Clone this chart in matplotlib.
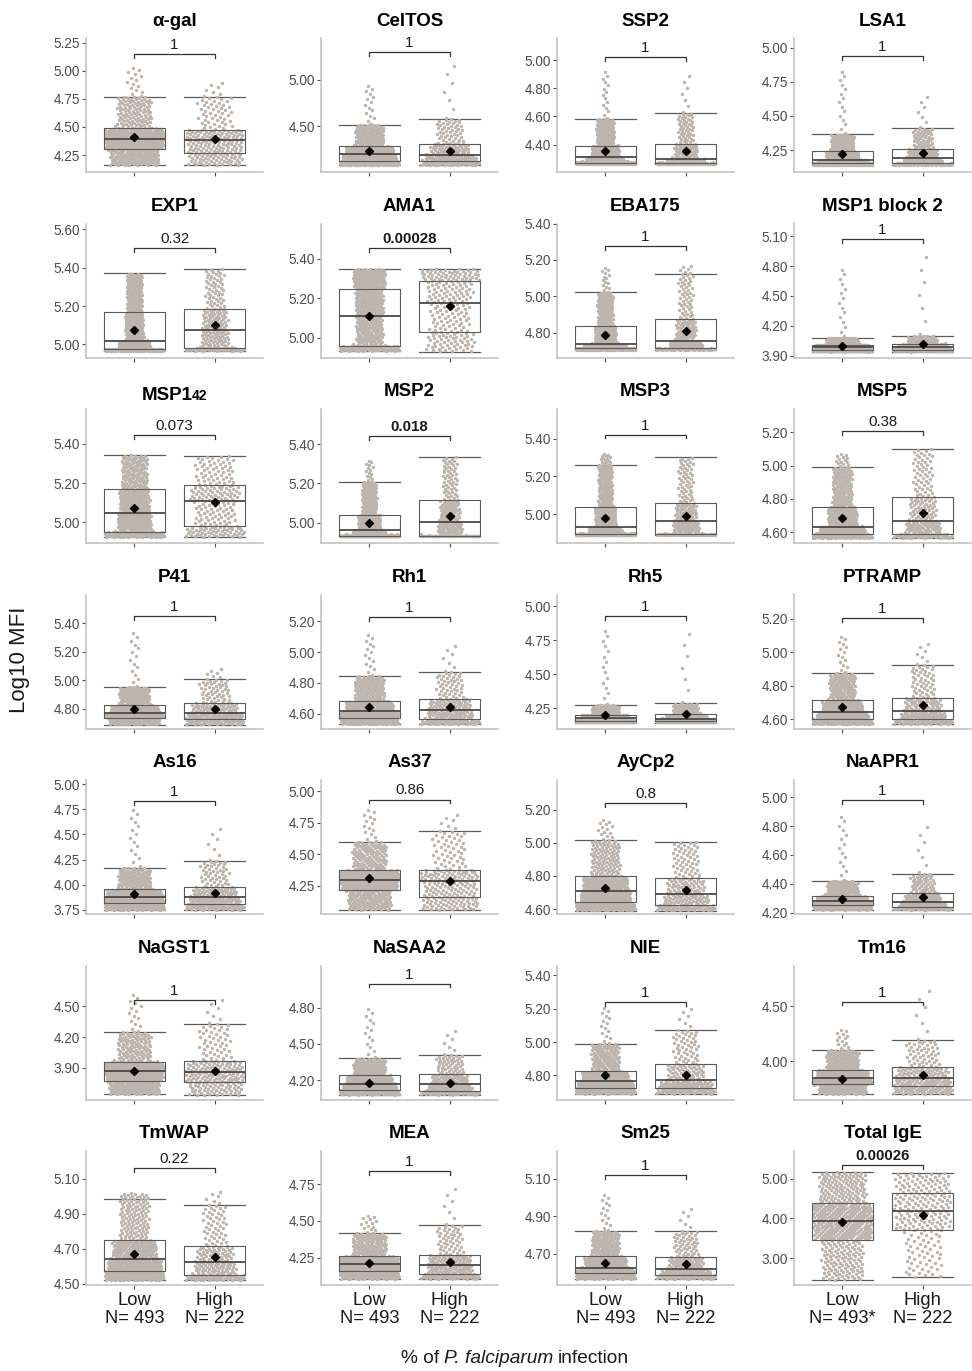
import numpy as np
import matplotlib
matplotlib.use("Agg")
import matplotlib.pyplot as plt

plt.rcParams['font.family'] = ['Liberation Sans', 'DejaVu Sans']

# DATA
antigens = ['α-gal', 'CelTOS', 'SSP2', 'LSA1',
            'EXP1', 'AMA1', 'EBA175', 'MSP1 block 2',
            'MSP1_42', 'MSP2', 'MSP3', 'MSP5',
            'P41', 'Rh1', 'Rh5', 'PTRAMP',
            'As16', 'As37', 'AyCp2', 'NaAPR1',
            'NaGST1', 'NaSAA2', 'NIE', 'Tm16',
            'TmWAP', 'MEA', 'Sm25', 'Total IgE']

p_values = ['1', '1', '1', '1',
            '0.32', '0.00028', '1', '1',
            '0.073', '0.018', '1', '0.38',
            '1', '1', '1', '1',
            '1', '0.86', '0.8', '1',
            '1', '1', '1', '1',
            '0.22', '1', '1', '0.00026']

groups = ['Low', 'High']
n_low = 493
n_high = 222

# per antigen: [lower whisker, q1, median, q3, upper whisker, max, mean]
low_stats = [
    [4.158, 4.30, 4.396, 4.49, 4.77, 5.03, 4.415],
    [4.08, 4.133, 4.20, 4.287, 4.52, 4.95, 4.234],
    [4.262, 4.27, 4.31, 4.393, 4.583, 4.926, 4.357],
    [4.14, 4.155, 4.18, 4.243, 4.365, 4.84, 4.22],
    [4.967, 4.975, 5.02, 5.167, 5.37, 5.37, 5.077],
    [4.934, 4.96, 5.113, 5.25, 5.35, 5.35, 5.113],
    [4.706, 4.714, 4.736, 4.839, 5.022, 5.16, 4.789],
    [3.94, 3.96, 3.986, 4.01, 4.08, 4.79, 4.0],
    [4.925, 4.952, 5.048, 5.169, 5.342, 5.342, 5.072],
    [4.93, 4.932, 4.963, 5.04, 5.207, 5.32, 5.00],
    [4.89, 4.895, 4.934, 5.04, 5.26, 5.32, 4.98],
    [4.566, 4.59, 4.634, 4.753, 4.99, 5.07, 4.684],
    [4.688, 4.737, 4.77, 4.824, 4.95, 5.34, 4.794],
    [4.53, 4.574, 4.615, 4.683, 4.846, 5.12, 4.641],
    [4.147, 4.16, 4.18, 4.204, 4.275, 4.84, 4.20],
    [4.57, 4.60, 4.64, 4.712, 4.874, 5.10, 4.672],
    [3.75, 3.815, 3.88, 3.957, 4.17, 4.76, 3.904],
    [4.06, 4.215, 4.30, 4.376, 4.60, 4.86, 4.31],
    [4.592, 4.641, 4.71, 4.798, 5.014, 5.14, 4.73],
    [4.22, 4.25, 4.278, 4.318, 4.42, 4.88, 4.296],
    [3.64, 3.77, 3.87, 3.96, 4.25, 4.62, 3.87],
    [4.08, 4.12, 4.17, 4.24, 4.38, 4.80, 4.18],
    [4.69, 4.725, 4.765, 4.825, 4.99, 5.21, 4.80],
    [3.70, 3.79, 3.845, 3.92, 4.10, 4.29, 3.84],
    [4.52, 4.576, 4.643, 4.75, 4.987, 5.02, 4.672],
    [4.104, 4.156, 4.207, 4.261, 4.415, 4.54, 4.216],
    [4.565, 4.594, 4.625, 4.686, 4.822, 5.02, 4.652],
    [2.46, 3.47, 3.94, 4.39, 5.16, 5.16, 3.92],
]
high_stats = [
    [4.16, 4.27, 4.38, 4.475, 4.77, 4.90, 4.395],
    [4.08, 4.13, 4.195, 4.316, 4.58, 5.20, 4.24],
    [4.26, 4.265, 4.30, 4.407, 4.625, 4.91, 4.357],
    [4.14, 4.155, 4.19, 4.26, 4.41, 4.66, 4.228],
    [4.967, 4.983, 5.073, 5.183, 5.394, 5.394, 5.10],
    [4.93, 5.031, 5.178, 5.287, 5.35, 5.35, 5.16],
    [4.706, 4.714, 4.756, 4.875, 5.12, 5.17, 4.807],
    [3.94, 3.96, 3.986, 4.016, 4.10, 4.96, 4.016],
    [4.925, 4.98, 5.108, 5.19, 5.338, 5.338, 5.103],
    [4.93, 4.932, 5.003, 5.114, 5.335, 5.335, 5.034],
    [4.89, 4.895, 4.962, 5.06, 5.30, 5.30, 4.99],
    [4.566, 4.59, 4.668, 4.81, 5.10, 5.10, 4.713],
    [4.688, 4.728, 4.772, 4.842, 5.005, 5.08, 4.80],
    [4.53, 4.563, 4.622, 4.693, 4.872, 5.055, 4.643],
    [4.147, 4.16, 4.176, 4.209, 4.287, 4.84, 4.213],
    [4.57, 4.598, 4.646, 4.728, 4.924, 5.06, 4.682],
    [3.75, 3.806, 3.88, 3.98, 4.24, 4.58, 3.92],
    [4.06, 4.165, 4.285, 4.38, 4.685, 4.82, 4.29],
    [4.592, 4.627, 4.69, 4.786, 5.006, 5.006, 4.716],
    [4.22, 4.24, 4.275, 4.334, 4.47, 4.82, 4.305],
    [3.63, 3.76, 3.86, 3.97, 4.33, 4.58, 3.87],
    [4.08, 4.11, 4.165, 4.25, 4.41, 4.62, 4.18],
    [4.69, 4.725, 4.77, 4.87, 5.07, 5.21, 4.80],
    [3.70, 3.77, 3.85, 3.95, 4.19, 4.67, 3.87],
    [4.52, 4.553, 4.624, 4.717, 4.95, 5.03, 4.652],
    [4.104, 4.138, 4.20, 4.27, 4.47, 4.74, 4.218],
    [4.565, 4.586, 4.617, 4.684, 4.819, 4.95, 4.644],
    [2.52, 3.70, 4.18, 4.64, 5.14, 5.14, 4.09],
]

y_ticks = [
    [4.25, 4.5, 4.75, 5.0, 5.25], [4.5, 5.0], [4.4, 4.6, 4.8, 5.0], [4.25, 4.5, 4.75, 5.0],
    [5.0, 5.2, 5.4, 5.6], [5.0, 5.2, 5.4], [4.8, 5.0, 5.2, 5.4], [3.9, 4.2, 4.5, 4.8, 5.1],
    [5.0, 5.2, 5.4], [5.0, 5.2, 5.4], [5.0, 5.2, 5.4], [4.6, 4.8, 5.0, 5.2],
    [4.8, 5.0, 5.2, 5.4], [4.6, 4.8, 5.0, 5.2], [4.25, 4.5, 4.75, 5.0], [4.6, 4.8, 5.0, 5.2],
    [3.75, 4.0, 4.25, 4.5, 4.75, 5.0], [4.25, 4.5, 4.75, 5.0], [4.6, 4.8, 5.0, 5.2], [4.2, 4.4, 4.6, 4.8, 5.0],
    [3.9, 4.2, 4.5], [4.2, 4.5, 4.8], [4.8, 5.0, 5.2, 5.4], [4.0, 4.5],
    [4.5, 4.7, 4.9, 5.1], [4.25, 4.5, 4.75], [4.7, 4.9, 5.1], [3.0, 4.0, 5.0],
]

y_lims = [
    (4.10, 5.29), (4.01, 5.45), (4.204, 5.16), (4.09, 5.07),
    (4.932, 5.63), (4.90, 5.58), (4.664, 5.40), (3.88, 5.23),
    (4.894, 5.578), (4.896, 5.58), (4.848, 5.556), (4.535, 5.34),
    (4.66, 5.60), (4.504, 5.374), (4.103, 5.086), (4.544, 5.344),
    (3.71, 5.04), (4.027, 5.09), (4.571, 5.378), (4.19, 5.12),
    (3.59, 4.90), (4.04, 5.15), (4.655, 5.46), (3.65, 4.87),
    (4.494, 5.26), (4.063, 4.976), (4.532, 5.25), (2.33, 5.69),
]

bracket_y = [5.146, 5.30, 5.024, 4.94,
             5.50, 5.455, 5.276, 5.07,
             5.444, 5.44, 5.42, 5.206,
             5.447, 5.226, 4.93, 5.202,
             4.83, 4.935, 5.239, 4.98,
             4.56, 5.0, 5.24, 4.54,
             5.16, 4.84, 5.12, 5.33]


# STYLE
POINT_COLOR = '#BDB5AD'
LINE_COLOR = '#5A5A5A'
AXIS_COLOR = '#BEBEBE'
W, H = 972, 1371
AX_W = 177


# stats list -> y values of the point cloud (quantile read-out) and x offsets (sina-like)
def cloud(stats, n):
    lo, q1, med, q3, uw, mx, mean = stats
    if mx > uw:
        probs = [0, 0.25, 0.5, 0.75, 0.97, 1.0]
        vals = [lo, q1, med, q3, uw, mx]
    else:
        probs = [0, 0.25, 0.5, 0.75, 1.0]
        vals = [lo, q1, med, q3, uw]
    p = (np.arange(n) + 0.5) / n
    y = np.interp(p, probs, vals)
    bins = np.linspace(lo, mx + 1e-9, 36)
    counts = np.histogram(y, bins)[0]
    idx = np.clip(np.digitize(y, bins) - 1, 0, len(counts) - 1)
    scale = (counts[idx] / counts.max()) ** 0.45
    u = (np.arange(n) * 0.6180339887 + 0.31) % 1.0
    dx = (2 * u - 1) * 0.37 * scale
    return dx, y


def box_dict(stats):
    lo, q1, med, q3, uw, mx, mean = stats
    return {'whislo': lo, 'q1': q1, 'med': med, 'q3': q3, 'whishi': uw,
            'mean': mean, 'fliers': []}


def draw_panel(ax, i, bottom_row):
    stats2 = [box_dict(low_stats[i]), box_dict(high_stats[i])]
    # caps under the points, whisker stems hidden by the cloud
    ax.bxp(stats2, positions=[1, 2], widths=0.76, capwidths=0.76, showfliers=False,
           showbox=False, showcaps=True,
           medianprops=dict(lw=0),
           whiskerprops=dict(lw=0),
           capprops=dict(color=LINE_COLOR, lw=0.9), zorder=0.5)

    for pos, stats, n in [(1, low_stats[i], n_low), (2, high_stats[i], n_high)]:
        dx, y = cloud(stats, n)
        ax.scatter(pos + dx, y, s=6, color=POINT_COLOR, linewidths=0, zorder=1)

    ax.bxp(stats2, positions=[1, 2], widths=0.76, showfliers=False, showcaps=False,
           boxprops=dict(color=LINE_COLOR, lw=0.8),
           medianprops=dict(color='#4A4A4A', lw=1.3),
           whiskerprops=dict(lw=0), zorder=3)

    ax.plot([1, 2], [low_stats[i][6], high_stats[i][6]], 'D', color='black',
            ms=4.5, ls='none', zorder=4)

    # comparison bracket
    lo, hi = y_lims[i]
    by = bracket_y[i]
    drop = (hi - lo) * 0.028
    ax.plot([1, 1, 2, 2], [by - drop, by, by, by - drop], color='#333333', lw=0.9,
            zorder=4)
    bold = float(p_values[i]) < 0.05
    ax.annotate(p_values[i], xy=(1.5, by), xytext=(0, 1.5), textcoords='offset points',
                ha='center', va='bottom', fontsize=10.8, color='#1A1A1A',
                fontweight='bold' if bold else 'normal')

    ax.set_xlim(0.4, 2.6)
    ax.set_ylim(lo, hi)
    ax.set_yticks(y_ticks[i])
    ax.set_yticklabels(['%.2f' % t for t in y_ticks[i]])
    ax.set_xticks([1, 2])
    if bottom_row:
        n_txt = ['N= %d' % n_low, 'N= %d' % n_high]
        if antigens[i] == 'Total IgE':
            n_txt[0] += '*'
        ax.set_xticklabels(['%s\n%s' % (g, t) for g, t in zip(groups, n_txt)],
                           fontsize=13.2, color='#1A1A1A', linespacing=1.05)
    else:
        ax.set_xticklabels([])

    for side in ['top', 'right']:
        ax.spines[side].set_visible(False)
    for side in ['left', 'bottom']:
        ax.spines[side].set_color(AXIS_COLOR)
        ax.spines[side].set_linewidth(1.1)
    ax.tick_params(axis='y', labelsize=9.8, labelcolor='#4D4D4D', color='#4D4D4D',
                   length=3, width=0.8, pad=1.5)
    ax.tick_params(axis='x', color='#4D4D4D', length=3, width=0.8, pad=2)

    name = antigens[i]
    if name == 'MSP1_42':
        return [ax.text(0, 1.065, 'MSP1', transform=ax.transAxes, ha='left',
                        va='baseline', fontsize=13.5, fontweight='bold'),
                ax.text(0, 1.065, '42', transform=ax.transAxes, ha='left',
                        va='baseline', fontsize=10, fontweight='bold')]
    ax.set_title(name, fontsize=13.5, fontweight='bold', pad=9)
    return None


# place pieces of text next to each other, centred on x (pixel units)
def lay_out_row(fig, pieces, center_px, gap_px, to_x):
    renderer = fig.canvas.get_renderer()
    widths = [t.get_window_extent(renderer).width for t in pieces]
    total = sum(widths) + gap_px * (len(pieces) - 1)
    x = center_px - total / 2
    for t, w in zip(pieces, widths):
        t.set_x(to_x(x))
        x += w + gap_px


def main():
    fig = plt.figure(figsize=(W / 100, H / 100), dpi=100)
    lefts = [86, 321, 557, 794]
    height = 134
    title_parts = None
    for i in range(len(antigens)):
        r, c = divmod(i, 4)
        bottom_px = 172 + 185.5 * r
        ax = fig.add_axes([lefts[c] / W, 1 - bottom_px / H, AX_W / W, height / H])
        parts = draw_panel(ax, i, r == 6)
        if parts:
            title_parts = parts

    lay_out_row(fig, title_parts, AX_W / 2, -1.5, lambda px: px / AX_W)

    fig.text(19 / W, 1 - 660 / H, 'Log10 MFI', rotation=90, fontsize=16,
             ha='center', va='center', color='#1A1A1A')
    xl = [fig.text(0, 1 - 1363 / H, '% of', fontsize=13.8, ha='left',
                   va='baseline', color='#1A1A1A'),
          fig.text(0, 1 - 1363 / H, 'P. falciparum', fontsize=13.8, style='italic',
                   ha='left', va='baseline', color='#1A1A1A'),
          fig.text(0, 1 - 1363 / H, 'infection', fontsize=13.8, ha='left',
                   va='baseline', color='#1A1A1A')]
    lay_out_row(fig, xl, 515, 4.5, lambda px: px / W)

    fig.savefig('out.png', dpi=100)


if __name__ == '__main__':
    main()
